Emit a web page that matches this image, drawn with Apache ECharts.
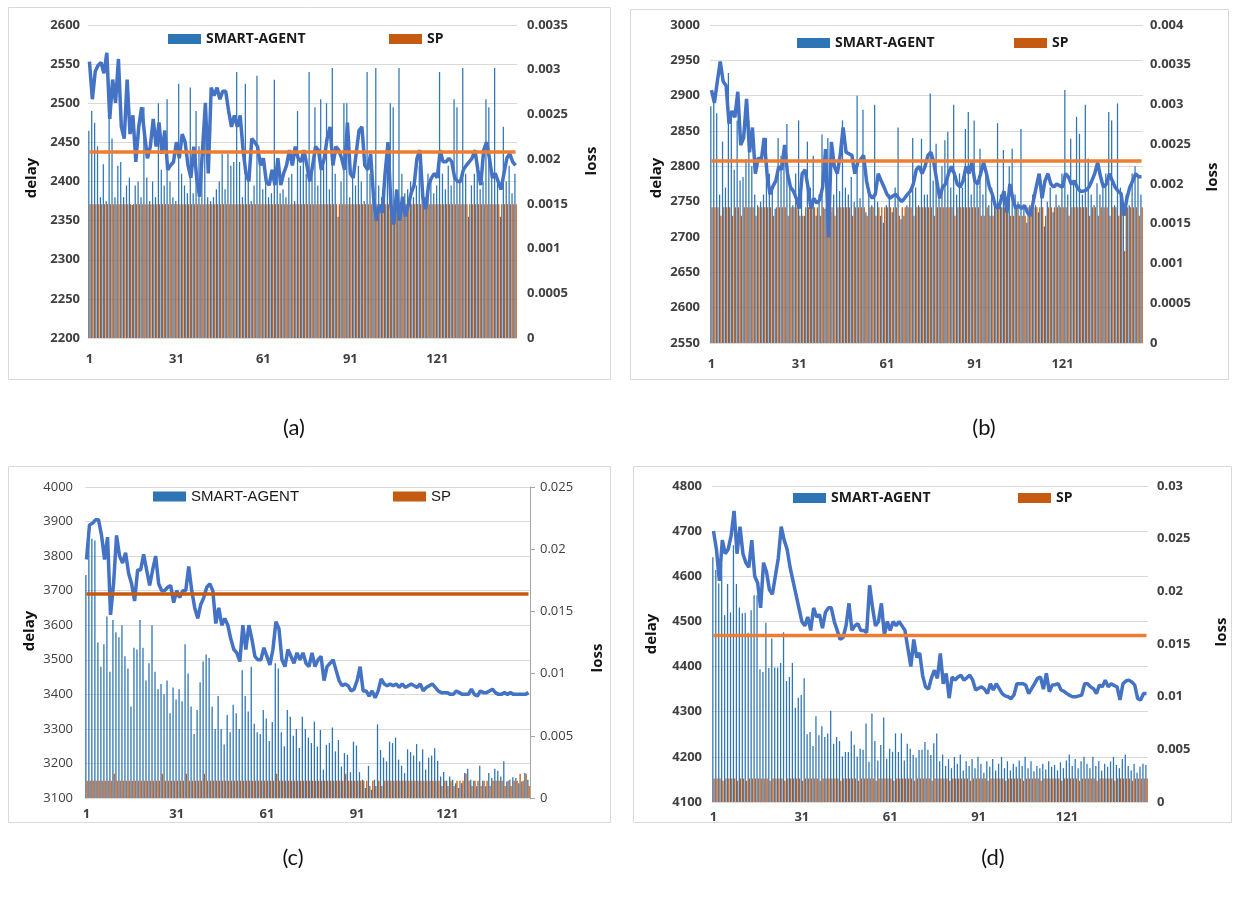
<!DOCTYPE html>
<html>
<head>
<meta charset="utf-8">
<script src="https://cdn.jsdelivr.net/npm/echarts@6/dist/echarts.min.js"></script>
<style>
html, body { margin: 0; padding: 0; background: #fff; }
#main { width: 1236px; height: 905px; }
</style>
</head>
<body>
<div id="main"></div>
<script>
// x categories 1..148 (every 30th one labelled)
var categories = [];
for (var k = 1; k <= 148; k++) categories.push(String(k));

// ---- panel (a) ----
var delayAgentA = [
    2465, 2490, 2475, 2445, 2380, 2422, 2375, 2485, 2455, 2380, 2420, 2425, 2380, 2395, 2405, 2370, 2395, 2400, 2380, 2495,
    2405, 2375, 2400, 2380, 2500, 2415, 2395, 2505, 2400, 2380, 2375, 2525, 2410, 2395, 2385, 2520, 2385, 2490, 2445, 2410,
    2500, 2380, 2375, 2380, 2390, 2400, 2435, 2390, 2435, 2420, 2425, 2540, 2425, 2380, 2525, 2410, 2375, 2395, 2535, 2420,
    2390, 2400, 2380, 2385, 2530, 2420, 2385, 2390, 2380, 2405, 2410, 2375, 2490, 2420, 2435, 2410,
    2540, 2420, 2495, 2395, 2505, 2420, 2500, 2390, 2545, 2410, 2355, 2400, 2500, 2500, 2380, 2410, 2395, 2420, 2400, 2375,
    2540, 2410, 2385, 2545, 2395, 2380, 2410, 2420, 2500, 2495, 2390, 2545, 2410, 2385, 2390, 2400, 2380, 2395, 2420, 2395,
    2380, 2410, 2400, 2385, 2395, 2540, 2410, 2390, 2420, 2395, 2505, 2495, 2400, 2545, 2410, 2355, 2395, 2410, 2420, 2390,
    2400, 2505, 2495, 2410, 2545, 2400, 2355, 2470, 2400, 2420, 2385, 2410
];
var delaySpA = [
    2371, 2371, 2371, 2371, 2371, 2371, 2371, 2371, 2371, 2371, 2371, 2371, 2371, 2371, 2371, 2371, 2371, 2371, 2371, 2371,
    2371, 2371, 2371, 2371, 2371, 2371, 2371, 2371, 2371, 2371, 2371, 2371, 2371, 2371, 2371, 2371, 2371, 2371, 2371, 2371,
    2371, 2371, 2371, 2371, 2371, 2371, 2371, 2371, 2371, 2371, 2371, 2371, 2371, 2371, 2371, 2371, 2371, 2371, 2371, 2371,
    2371, 2371, 2371, 2371, 2371, 2371, 2371, 2371, 2371, 2371, 2371, 2371, 2371, 2371, 2371, 2371, 2371, 2371, 2371, 2371,
    2371, 2371, 2371, 2371, 2371, 2371, 2371, 2371, 2371, 2371, 2371, 2371, 2371, 2371, 2371, 2371, 2371, 2371, 2371, 2371,
    2371, 2371, 2371, 2371, 2371, 2371, 2371, 2371, 2371, 2371, 2371, 2371, 2371, 2371, 2371, 2371, 2371, 2371, 2371, 2371,
    2371, 2371, 2371, 2371, 2371, 2371, 2371, 2371, 2371, 2371, 2371, 2371, 2371, 2371, 2371, 2371, 2371, 2371, 2371, 2371,
    2371, 2371, 2371, 2371, 2371, 2371, 2371, 2371
];
var lossAgentA = [
    0.00309, 0.00267, 0.00298, 0.00305, 0.00308, 0.00296, 0.00319, 0.00245, 0.00289, 0.00263,
    0.00312, 0.00236, 0.00223, 0.00289, 0.00228, 0.00249, 0.00197, 0.00236, 0.00258, 0.00228,
    0.00201, 0.00214, 0.00245, 0.00214, 0.00241, 0.00206, 0.00232, 0.00188, 0.00193, 0.00197,
    0.00219, 0.00201, 0.00228, 0.00219, 0.00193, 0.00179, 0.00214, 0.00179, 0.00158, 0.0021,
    0.00263, 0.00184, 0.0028, 0.00271, 0.0028, 0.00267, 0.00276, 0.00276, 0.00254, 0.00236,
    0.00249, 0.00236, 0.00249, 0.0021, 0.00184, 0.00175, 0.00223, 0.00219, 0.00214, 0.00193,
    0.00201, 0.00175, 0.00171, 0.00188, 0.00171, 0.00201, 0.00171, 0.00184, 0.00193, 0.0021,
    0.00193, 0.00214, 0.00201, 0.00197, 0.0021, 0.00193, 0.00175, 0.00193, 0.00214, 0.0021,
    0.00188, 0.00201, 0.00223, 0.00236, 0.00193, 0.00214, 0.0021, 0.00201, 0.00188, 0.00241,
    0.00184, 0.00179, 0.00206, 0.00232, 0.00236, 0.00193, 0.00188, 0.00206, 0.00158, 0.00131,
    0.00149, 0.0014, 0.00184, 0.00219, 0.00149, 0.00127, 0.00166, 0.00131, 0.00158, 0.00136,
    0.00149, 0.00162, 0.00171, 0.00201, 0.0021, 0.00158, 0.00144, 0.00171, 0.00179, 0.00184,
    0.00179, 0.0021, 0.00197, 0.00197, 0.00201, 0.00197, 0.00179, 0.00175, 0.00175, 0.00188,
    0.00193, 0.00197, 0.00201, 0.0021, 0.00188, 0.00171, 0.0021, 0.00219, 0.00201, 0.00179,
    0.00184, 0.00175, 0.00166, 0.00184, 0.00201, 0.00206, 0.00197, 0.00193
];
var lossSpA = [
    0.00208, 0.00208, 0.00208, 0.00208, 0.00208, 0.00208, 0.00208, 0.00208, 0.00208, 0.00208, 0.00208, 0.00208, 0.00208, 0.00208, 0.00208, 0.00208, 0.00208, 0.00208, 0.00208, 0.00208,
    0.00208, 0.00208, 0.00208, 0.00208, 0.00208, 0.00208, 0.00208, 0.00208, 0.00208, 0.00208, 0.00208, 0.00208, 0.00208, 0.00208, 0.00208, 0.00208, 0.00208, 0.00208, 0.00208, 0.00208,
    0.00208, 0.00208, 0.00208, 0.00208, 0.00208, 0.00208, 0.00208, 0.00208, 0.00208, 0.00208, 0.00208, 0.00208, 0.00208, 0.00208, 0.00208, 0.00208, 0.00208, 0.00208, 0.00208, 0.00208,
    0.00208, 0.00208, 0.00208, 0.00208, 0.00208, 0.00208, 0.00208, 0.00208, 0.00208, 0.00208, 0.00208, 0.00208, 0.00208, 0.00208, 0.00208, 0.00208, 0.00208, 0.00208, 0.00208, 0.00208,
    0.00208, 0.00208, 0.00208, 0.00208, 0.00208, 0.00208, 0.00208, 0.00208, 0.00208, 0.00208, 0.00208, 0.00208, 0.00208, 0.00208, 0.00208, 0.00208, 0.00208, 0.00208, 0.00208, 0.00208,
    0.00208, 0.00208, 0.00208, 0.00208, 0.00208, 0.00208, 0.00208, 0.00208, 0.00208, 0.00208, 0.00208, 0.00208, 0.00208, 0.00208, 0.00208, 0.00208, 0.00208, 0.00208, 0.00208, 0.00208,
    0.00208, 0.00208, 0.00208, 0.00208, 0.00208, 0.00208, 0.00208, 0.00208, 0.00208, 0.00208, 0.00208, 0.00208, 0.00208, 0.00208, 0.00208, 0.00208, 0.00208, 0.00208, 0.00208, 0.00208,
    0.00208, 0.00208, 0.00208, 0.00208, 0.00208, 0.00208, 0.00208, 0.00208
];

// ---- panel (b) ----
var delayAgentB = [
    2885, 2900, 2875, 2760, 2835, 2770, 2932, 2877, 2795, 2865, 2780, 2785, 2810, 2865, 2800, 2760, 2745, 2750, 2760, 2840,
    2790, 2770, 2740, 2840, 2815, 2820, 2860, 2770, 2745, 2790, 2865, 2760, 2730, 2835, 2770, 2815, 2730, 2760, 2845, 2740,
    2840, 2735, 2760, 2790, 2765, 2865, 2770, 2760, 2785, 2750, 2900, 2755, 2880, 2735, 2760, 2745, 2887, 2750, 2730, 2720,
    2745, 2760, 2735, 2770, 2855, 2725, 2730, 2745, 2760, 2840, 2770, 2745, 2839, 2760, 2760, 2903, 2780, 2832, 2760, 2800,
    2837, 2849, 2770, 2887, 2760, 2790, 2770, 2853, 2877, 2760, 2865, 2780, 2825, 2760, 2790, 2745, 2770, 2750, 2861, 2760,
    2823, 2745, 2800, 2825, 2760, 2750, 2853, 2740, 2720, 2745, 2760, 2745, 2735, 2760, 2715, 2750, 2770, 2735, 2760, 2745,
    2790, 2908, 2760, 2839, 2780, 2870, 2846, 2760, 2887, 2811, 2760, 2745, 2776, 2760, 2770, 2790, 2877, 2865, 2745, 2889,
    2770, 2745, 2760, 2745, 2790, 2800, 2785, 2760
];
var delaySpB = [
    2742, 2742, 2742, 2730, 2742, 2742, 2742, 2730, 2742, 2742, 2730, 2742, 2742, 2742, 2742, 2730, 2742, 2742, 2742, 2742,
    2742, 2730, 2742, 2742, 2742, 2742, 2730, 2742, 2742, 2742, 2730, 2730, 2742, 2742, 2742, 2742, 2742, 2730, 2742, 2742,
    2742, 2742, 2730, 2742, 2742, 2742, 2742, 2742, 2730, 2742, 2742, 2742, 2742, 2730, 2742, 2742, 2730, 2742, 2742, 2742,
    2742, 2742, 2742, 2742, 2730, 2742, 2742, 2742, 2742, 2730, 2742, 2742, 2742, 2742, 2742, 2742, 2730, 2742, 2742, 2742,
    2742, 2742, 2742, 2730, 2742, 2742, 2742, 2742, 2742, 2742, 2742, 2742, 2730, 2730, 2742, 2730, 2730, 2742, 2742, 2742,
    2742, 2742, 2730, 2730, 2742, 2730, 2730, 2730, 2742, 2742, 2742, 2742, 2742, 2742, 2730, 2742, 2742, 2742, 2742, 2742,
    2742, 2742, 2730, 2742, 2742, 2742, 2742, 2742, 2742, 2730, 2742, 2742, 2730, 2742, 2742, 2742, 2730, 2742, 2742, 2730,
    2742, 2680, 2742, 2742, 2742, 2742, 2730, 2742
];
var lossAgentB = [
    0.00318, 0.00302, 0.00329, 0.00354, 0.00329, 0.00324, 0.00276, 0.00292, 0.00284, 0.00316,
    0.00249, 0.00258, 0.00307, 0.0024, 0.00271, 0.00213, 0.00233, 0.00229, 0.00258, 0.00213,
    0.00187, 0.00197, 0.00204, 0.00222, 0.00218, 0.00249, 0.00213, 0.00196, 0.00191, 0.00182,
    0.00169, 0.00213, 0.00218, 0.00196, 0.00169, 0.00182, 0.00176, 0.0018, 0.00196, 0.00244,
    0.00133, 0.00253, 0.00222, 0.00213, 0.00236, 0.00271, 0.0024, 0.00238, 0.00236, 0.00213,
    0.00227, 0.00231, 0.00236, 0.00204, 0.00187, 0.00182, 0.00187, 0.00213, 0.00204, 0.00196,
    0.00187, 0.00182, 0.00185, 0.00187, 0.00182, 0.00178, 0.00182, 0.00187, 0.00191, 0.002,
    0.00218, 0.00222, 0.00213, 0.00222, 0.00236, 0.0024, 0.00227, 0.00204, 0.00182, 0.00196,
    0.002, 0.00213, 0.00222, 0.00213, 0.002, 0.00196, 0.00204, 0.00222, 0.00213, 0.00227,
    0.00204, 0.002, 0.00213, 0.00227, 0.00213, 0.00196, 0.00187, 0.00173, 0.00169, 0.0018,
    0.00191, 0.00164, 0.002, 0.00182, 0.00169, 0.00173, 0.00169, 0.00173, 0.00164, 0.0016,
    0.00178, 0.00196, 0.00213, 0.00182, 0.00204, 0.00213, 0.002, 0.00196, 0.002, 0.00198,
    0.00196, 0.00213, 0.00209, 0.002, 0.00204, 0.00196, 0.00191, 0.00191, 0.00192, 0.00196,
    0.00204, 0.00213, 0.00227, 0.00209, 0.00196, 0.002, 0.00213, 0.00204, 0.00196, 0.00191,
    0.00188, 0.0016, 0.00182, 0.00196, 0.00204, 0.00213, 0.00209, 0.00209
];
var lossSpB = [
    0.00229, 0.00229, 0.00229, 0.00229, 0.00229, 0.00229, 0.00229, 0.00229, 0.00229, 0.00229, 0.00229, 0.00229, 0.00229, 0.00229, 0.00229, 0.00229, 0.00229, 0.00229, 0.00229, 0.00229,
    0.00229, 0.00229, 0.00229, 0.00229, 0.00229, 0.00229, 0.00229, 0.00229, 0.00229, 0.00229, 0.00229, 0.00229, 0.00229, 0.00229, 0.00229, 0.00229, 0.00229, 0.00229, 0.00229, 0.00229,
    0.00229, 0.00229, 0.00229, 0.00229, 0.00229, 0.00229, 0.00229, 0.00229, 0.00229, 0.00229, 0.00229, 0.00229, 0.00229, 0.00229, 0.00229, 0.00229, 0.00229, 0.00229, 0.00229, 0.00229,
    0.00229, 0.00229, 0.00229, 0.00229, 0.00229, 0.00229, 0.00229, 0.00229, 0.00229, 0.00229, 0.00229, 0.00229, 0.00229, 0.00229, 0.00229, 0.00229, 0.00229, 0.00229, 0.00229, 0.00229,
    0.00229, 0.00229, 0.00229, 0.00229, 0.00229, 0.00229, 0.00229, 0.00229, 0.00229, 0.00229, 0.00229, 0.00229, 0.00229, 0.00229, 0.00229, 0.00229, 0.00229, 0.00229, 0.00229, 0.00229,
    0.00229, 0.00229, 0.00229, 0.00229, 0.00229, 0.00229, 0.00229, 0.00229, 0.00229, 0.00229, 0.00229, 0.00229, 0.00229, 0.00229, 0.00229, 0.00229, 0.00229, 0.00229, 0.00229, 0.00229,
    0.00229, 0.00229, 0.00229, 0.00229, 0.00229, 0.00229, 0.00229, 0.00229, 0.00229, 0.00229, 0.00229, 0.00229, 0.00229, 0.00229, 0.00229, 0.00229, 0.00229, 0.00229, 0.00229, 0.00229,
    0.00229, 0.00229, 0.00229, 0.00229, 0.00229, 0.00229, 0.00229, 0.00229
];

// ---- panel (c) ----
var delayAgentC = [
    3745, 3840, 3850, 3845, 3550, 3480, 3545, 3625, 3465, 3615, 3580, 3565, 3600, 3510, 3475, 3365, 3535, 3530, 3615, 3535,
    3440, 3490, 3600, 3465, 3415, 3430, 3400, 3440, 3345, 3420, 3385, 3415, 3380, 3545, 3460, 3365, 3285, 3355, 3435, 3495,
    3515, 3505, 3365, 3300, 3395, 3300, 3255, 3340, 3290, 3370, 3345, 3300, 3470, 3395, 3350, 3480, 3315, 3290, 3285, 3355,
    3330, 3265, 3320, 3490, 3475, 3290, 3250, 3355, 3335, 3280, 3300, 3245, 3335, 3300, 3275,
    3259, 3321, 3249, 3297, 3182, 3254, 3259, 3304, 3235, 3268, 3191, 3230, 3225, 3175, 3263, 3252, 3175, 3153, 3129, 3193,
    3124, 3153, 3313, 3239, 3217, 3206, 3263, 3259, 3275, 3211, 3193, 3172, 3241, 3233, 3223, 3256, 3206, 3241, 3182, 3217,
    3223, 3244, 3208, 3162, 3175, 3150, 3162, 3153, 3143, 3129, 3143, 3172, 3185, 3153, 3150, 3134, 3193, 3150, 3134, 3172,
    3158, 3185, 3179, 3162, 3206, 3148, 3153, 3160, 3158, 3143, 3148, 3172, 3153
];
var delaySpC = [
    3150, 3150, 3150, 3150, 3150, 3150, 3150, 3150, 3150, 3170, 3150, 3150, 3150, 3150, 3150, 3150, 3150, 3150, 3150, 3150,
    3150, 3150, 3150, 3150, 3150, 3170, 3150, 3150, 3150, 3150, 3150, 3150, 3150, 3170, 3150, 3150, 3150, 3150, 3150, 3170,
    3150, 3150, 3150, 3150, 3150, 3150, 3150, 3150, 3150, 3150, 3150, 3150, 3150, 3150, 3150, 3150, 3150, 3150, 3150, 3150,
    3150, 3150, 3150, 3170, 3150, 3150, 3150, 3150, 3150, 3150, 3150, 3150, 3150, 3150, 3150, 3150, 3150, 3150, 3150, 3150,
    3150, 3150, 3150, 3150, 3150, 3150, 3170, 3150, 3150, 3150, 3150, 3150, 3150, 3150, 3135, 3150, 3135, 3150, 3135, 3150,
    3150, 3150, 3150, 3150, 3150, 3150, 3150, 3150, 3150, 3150, 3150, 3150, 3150, 3150, 3150, 3150, 3150, 3150, 3135, 3150,
    3135, 3150, 3135, 3150, 3150, 3150, 3170, 3150, 3135, 3150, 3150, 3135, 3150, 3150, 3135, 3150, 3150, 3150, 3150, 3135,
    3150, 3135, 3150, 3150, 3170, 3150, 3170, 3135
];
var lossAgentC = [
    0.01917, 0.02195, 0.02208, 0.02236, 0.02236, 0.02111, 0.01917, 0.02097, 0.01472, 0.01722,
    0.02111, 0.01945, 0.01889, 0.01972, 0.01806, 0.01722, 0.01583, 0.01833, 0.01833, 0.01958,
    0.01833, 0.01708, 0.01833, 0.01945, 0.01722, 0.01667, 0.01667, 0.01694, 0.01708, 0.0157,
    0.01667, 0.01611, 0.01667, 0.01667, 0.01861, 0.01667, 0.01528, 0.01444, 0.01556, 0.01611,
    0.01694, 0.01722, 0.01667, 0.01403, 0.01528, 0.01389, 0.01444, 0.01389, 0.01278, 0.01194,
    0.01167, 0.01097, 0.01389, 0.01194, 0.01389, 0.01278, 0.01139, 0.01111, 0.01111, 0.01208,
    0.01139, 0.0107, 0.01194, 0.01417, 0.01361, 0.01111, 0.01056, 0.01194, 0.01139, 0.01083,
    0.01167, 0.01111, 0.01167, 0.01083, 0.01056, 0.01167, 0.01056, 0.01111, 0.01139, 0.00944,
    0.01056, 0.01083, 0.01111, 0.01028, 0.00944, 0.00903, 0.00917, 0.00903, 0.00861, 0.00875,
    0.00944, 0.01056, 0.00861, 0.00861, 0.0082, 0.00861, 0.00806, 0.00861, 0.00958, 0.00917,
    0.00903, 0.00917, 0.00903, 0.00917, 0.00889, 0.00917, 0.00889, 0.00903, 0.00917, 0.00903,
    0.00889, 0.00917, 0.00861, 0.00889, 0.00903, 0.00917, 0.00889, 0.00861, 0.00847, 0.00847,
    0.00847, 0.00833, 0.00833, 0.00861, 0.00847, 0.00833, 0.00833, 0.00833, 0.00875, 0.00833,
    0.0082, 0.00861, 0.00847, 0.00847, 0.00861, 0.00875, 0.00847, 0.00833, 0.00833, 0.00847,
    0.00833, 0.00847, 0.00833, 0.00833, 0.00833, 0.00833, 0.00833, 0.00847
];
var lossSpC = [
    0.0164, 0.0164, 0.0164, 0.0164, 0.0164, 0.0164, 0.0164, 0.0164, 0.0164, 0.0164, 0.0164, 0.0164, 0.0164, 0.0164, 0.0164, 0.0164, 0.0164, 0.0164, 0.0164, 0.0164,
    0.0164, 0.0164, 0.0164, 0.0164, 0.0164, 0.0164, 0.0164, 0.0164, 0.0164, 0.0164, 0.0164, 0.0164, 0.0164, 0.0164, 0.0164, 0.0164, 0.0164, 0.0164, 0.0164, 0.0164,
    0.0164, 0.0164, 0.0164, 0.0164, 0.0164, 0.0164, 0.0164, 0.0164, 0.0164, 0.0164, 0.0164, 0.0164, 0.0164, 0.0164, 0.0164, 0.0164, 0.0164, 0.0164, 0.0164, 0.0164,
    0.0164, 0.0164, 0.0164, 0.0164, 0.0164, 0.0164, 0.0164, 0.0164, 0.0164, 0.0164, 0.0164, 0.0164, 0.0164, 0.0164, 0.0164, 0.0164, 0.0164, 0.0164, 0.0164, 0.0164,
    0.0164, 0.0164, 0.0164, 0.0164, 0.0164, 0.0164, 0.0164, 0.0164, 0.0164, 0.0164, 0.0164, 0.0164, 0.0164, 0.0164, 0.0164, 0.0164, 0.0164, 0.0164, 0.0164, 0.0164,
    0.0164, 0.0164, 0.0164, 0.0164, 0.0164, 0.0164, 0.0164, 0.0164, 0.0164, 0.0164, 0.0164, 0.0164, 0.0164, 0.0164, 0.0164, 0.0164, 0.0164, 0.0164, 0.0164, 0.0164,
    0.0164, 0.0164, 0.0164, 0.0164, 0.0164, 0.0164, 0.0164, 0.0164, 0.0164, 0.0164, 0.0164, 0.0164, 0.0164, 0.0164, 0.0164, 0.0164, 0.0164, 0.0164, 0.0164, 0.0164,
    0.0164, 0.0164, 0.0164, 0.0164, 0.0164, 0.0164, 0.0164, 0.0164
];

// ---- panel (d) ----
var delayAgentD = [
    4642, 4614, 4584, 4626, 4514, 4583, 4520, 4669, 4583, 4531, 4518, 4519, 4475, 4525, 4558, 4558, 4394, 4388, 4497, 4397,
    4462, 4398, 4398, 4408, 4476, 4368, 4377, 4408, 4309, 4331, 4337, 4374, 4250, 4255, 4224, 4290, 4248, 4268, 4244, 4252,
    4302, 4229, 4244, 4235, 4201, 4211, 4211, 4257, 4227, 4201, 4218, 4216, 4274, 4189, 4296, 4235, 4192, 4226, 4287, 4196,
    4218, 4211, 4252, 4211, 4252, 4192, 4229, 4218, 4204, 4198, 4215, 4216, 4233, 4216, 4204,
    4230, 4252, 4190, 4205, 4180, 4195, 4175, 4200, 4185, 4205, 4170, 4190, 4180, 4195, 4175, 4200, 4185, 4165, 4190, 4178,
    4195, 4170, 4185, 4200, 4175, 4190, 4170, 4185, 4178, 4192, 4180, 4200, 4175, 4190, 4168, 4180, 4175, 4185, 4172, 4190,
    4178, 4182, 4170, 4188, 4175, 4192, 4205, 4180, 4195, 4175, 4190, 4200, 4185, 4175, 4200, 4180, 4190, 4170, 4185, 4178,
    4190, 4200, 4182, 4175, 4195, 4205, 4180, 4170, 4185, 4165, 4178, 4185, 4182
];
var delaySpD = [
    4152, 4152, 4152, 4147, 4152, 4152, 4152, 4152, 4147, 4152, 4152, 4147, 4152, 4152, 4152, 4152, 4152, 4152, 4152, 4147,
    4152, 4152, 4152, 4152, 4147, 4152, 4152, 4152, 4152, 4152, 4147, 4152, 4152, 4152, 4152, 4152, 4147, 4152, 4152, 4152,
    4152, 4152, 4152, 4147, 4152, 4152, 4152, 4152, 4152, 4147, 4152, 4152, 4152, 4152, 4152, 4147, 4152, 4152, 4152, 4152,
    4152, 4147, 4152, 4152, 4152, 4152, 4152, 4152, 4147, 4152, 4152, 4152, 4152, 4152, 4147, 4152, 4152, 4152, 4152, 4152,
    4147, 4152, 4152, 4152, 4152, 4152, 4152, 4147, 4152, 4152, 4152, 4152, 4152, 4147, 4152, 4152, 4152, 4152, 4152, 4147,
    4152, 4152, 4152, 4152, 4152, 4147, 4152, 4152, 4152, 4152, 4152, 4147, 4152, 4152, 4152, 4152, 4152, 4152, 4147, 4152,
    4152, 4152, 4152, 4152, 4147, 4152, 4152, 4152, 4152, 4152, 4147, 4152, 4152, 4152, 4152, 4152, 4147, 4152, 4152, 4152,
    4152, 4152, 4147, 4152, 4152, 4152, 4152, 4152
];
var lossAgentD = [
    0.02572, 0.024, 0.021, 0.02486, 0.02357, 0.024, 0.02529, 0.02764, 0.02357, 0.02614,
    0.02357, 0.02272, 0.02229, 0.02486, 0.02143, 0.02079, 0.01843, 0.02272, 0.02186, 0.02014,
    0.01972, 0.02143, 0.02314, 0.02614, 0.02486, 0.024, 0.02229, 0.021, 0.01972, 0.01843,
    0.01714, 0.01672, 0.01757, 0.01629, 0.01843, 0.01757, 0.01779, 0.0165, 0.018, 0.01843,
    0.01843, 0.01714, 0.01629, 0.01543, 0.01564, 0.01672, 0.01886, 0.01629, 0.01672, 0.01693,
    0.01629, 0.01629, 0.01607, 0.02057, 0.01843, 0.01672, 0.01714, 0.01886, 0.01586, 0.01714,
    0.01629, 0.01714, 0.01672, 0.01714, 0.01672, 0.01629, 0.01457, 0.01286, 0.01543, 0.01371,
    0.01414, 0.012, 0.01093, 0.01072, 0.01179, 0.01251, 0.01174, 0.0141, 0.01123, 0.01221,
    0.00986, 0.01187, 0.01157, 0.01187, 0.01204, 0.01157, 0.01179, 0.01204, 0.01157, 0.01063,
    0.0108, 0.01093, 0.01072, 0.01029, 0.01123, 0.01063, 0.01123, 0.01076, 0.01029, 0.01007,
    0.00999, 0.00981, 0.01016, 0.01123, 0.01123, 0.01123, 0.0111, 0.01029, 0.01076, 0.01123,
    0.01174, 0.01187, 0.01072, 0.01221, 0.01046, 0.0111, 0.01114, 0.01123, 0.01063, 0.0105,
    0.01029, 0.01011, 0.00999, 0.00999, 0.01007, 0.01016, 0.01123, 0.01123, 0.01093, 0.01076,
    0.01029, 0.0111, 0.01093, 0.01157, 0.01093, 0.01123, 0.01106, 0.01093, 0.00969, 0.01123,
    0.01149, 0.01157, 0.0114, 0.0111, 0.00981, 0.00969, 0.01029, 0.01029
];
var lossSpD = [
    0.0158, 0.0158, 0.0158, 0.0158, 0.0158, 0.0158, 0.0158, 0.0158, 0.0158, 0.0158, 0.0158, 0.0158, 0.0158, 0.0158, 0.0158, 0.0158, 0.0158, 0.0158, 0.0158, 0.0158,
    0.0158, 0.0158, 0.0158, 0.0158, 0.0158, 0.0158, 0.0158, 0.0158, 0.0158, 0.0158, 0.0158, 0.0158, 0.0158, 0.0158, 0.0158, 0.0158, 0.0158, 0.0158, 0.0158, 0.0158,
    0.0158, 0.0158, 0.0158, 0.0158, 0.0158, 0.0158, 0.0158, 0.0158, 0.0158, 0.0158, 0.0158, 0.0158, 0.0158, 0.0158, 0.0158, 0.0158, 0.0158, 0.0158, 0.0158, 0.0158,
    0.0158, 0.0158, 0.0158, 0.0158, 0.0158, 0.0158, 0.0158, 0.0158, 0.0158, 0.0158, 0.0158, 0.0158, 0.0158, 0.0158, 0.0158, 0.0158, 0.0158, 0.0158, 0.0158, 0.0158,
    0.0158, 0.0158, 0.0158, 0.0158, 0.0158, 0.0158, 0.0158, 0.0158, 0.0158, 0.0158, 0.0158, 0.0158, 0.0158, 0.0158, 0.0158, 0.0158, 0.0158, 0.0158, 0.0158, 0.0158,
    0.0158, 0.0158, 0.0158, 0.0158, 0.0158, 0.0158, 0.0158, 0.0158, 0.0158, 0.0158, 0.0158, 0.0158, 0.0158, 0.0158, 0.0158, 0.0158, 0.0158, 0.0158, 0.0158, 0.0158,
    0.0158, 0.0158, 0.0158, 0.0158, 0.0158, 0.0158, 0.0158, 0.0158, 0.0158, 0.0158, 0.0158, 0.0158, 0.0158, 0.0158, 0.0158, 0.0158, 0.0158, 0.0158, 0.0158, 0.0158,
    0.0158, 0.0158, 0.0158, 0.0158, 0.0158, 0.0158, 0.0158, 0.0158
];

var BLUE_BAR = '#2E75B6';
var ORANGE_BAR = '#C55A11';
var BLUE_LINE = '#4472C4';
var ORANGE_LINE = '#ED7D31';
var LABEL_COLOR = '#404040';
var FONT = "'Open Sans', 'Liberation Sans', sans-serif";

// layout of the four panels (pixel boxes measured on the figure)
var panels = [
    {
        grid: { left: 88, top: 25, width: 429, height: 313 },
        delay: [2200, 2600, 50], loss: [0, 0.0035, 0.0005],
        bars: [delayAgentA, delaySpA], lines: [lossAgentA, lossSpA],
        spLine: ORANGE_LINE, bold: true, xMargin: 15, lMargin: 8, rMargin: 10, rightLine: false,
        leg: [163, 384, 27], legFont: 14,
        box: [8.5, 7.5, 602, 372], caption: ['(a)', 294, 428],
        delayName: [32, 178], lossName: [592, 161]
    },
    {
        grid: { left: 710, top: 25, width: 433, height: 318 },
        delay: [2550, 3000, 50], loss: [0, 0.004, 0.0005],
        bars: [delayAgentB, delaySpB], lines: [lossAgentB, lossSpB],
        spLine: ORANGE_LINE, bold: true, xMargin: 15, lMargin: 10, rMargin: 7, rightLine: false,
        leg: [792, 1009, 31], legFont: 14,
        box: [630.5, 9.5, 598, 370], caption: ['(b)', 984, 428],
        delayName: [657, 178], lossName: [1213, 177]
    },
    {
        grid: { left: 85, top: 487, width: 445, height: 311 },
        delay: [3100, 4000, 100], loss: [0, 0.025, 0.005],
        bars: [delayAgentC, delaySpC], lines: [lossAgentC, lossSpC],
        spLine: ORANGE_BAR, bold: false, xMargin: 10, lMargin: 12, rMargin: 10, rightLine: true,
        leg: [148, 388, 484], legFont: 15,
        box: [8.5, 466.5, 602, 356], caption: ['(c)', 293, 858],
        delayName: [30, 631], lossName: [598, 658]
    },
    {
        grid: { left: 712, top: 486, width: 436, height: 316 },
        delay: [4100, 4800, 100], loss: [0, 0.03, 0.005],
        bars: [delayAgentD, delaySpD], lines: [lossAgentD, lossSpD],
        spLine: ORANGE_LINE, bold: true, xMargin: 9, lMargin: 10, rMargin: 9, rightLine: false,
        leg: [788, 1013, 486], legFont: 14,
        box: [633.5, 466.5, 598, 356], caption: ['(d)', 993, 858],
        delayName: [652, 634], lossName: [1222, 632]
    }
];

var option = {
    backgroundColor: '#ffffff',
    animation: false,
    grid: [], xAxis: [], yAxis: [], series: [], legend: [], graphic: []
};

panels.forEach(function (p, i) {
    var weight = p.bold ? 'bold' : 'normal';
    option.grid.push(p.grid);
    option.xAxis.push({
        type: 'category', gridIndex: i, data: categories,
        axisLine: { lineStyle: { color: '#d9d9d9' } },
        axisTick: { show: false },
        axisLabel: { interval: 29, margin: p.xMargin, color: LABEL_COLOR, fontWeight: 'bold', fontSize: 13, fontFamily: FONT }
    });
    // left: delay
    option.yAxis.push({
        type: 'value', gridIndex: i, position: 'left',
        min: p.delay[0], max: p.delay[1], interval: p.delay[2],
        axisLine: { show: false }, axisTick: { show: false },
        splitLine: { lineStyle: { color: '#d9d9d9' } },
        axisLabel: {
            margin: p.lMargin, color: LABEL_COLOR, fontWeight: weight, fontSize: 13, fontFamily: FONT,
            formatter: function (v) { return String(v); }
        }
    });
    // right: loss
    option.yAxis.push({
        type: 'value', gridIndex: i, position: 'right',
        min: p.loss[0], max: p.loss[1], interval: p.loss[2],
        axisLine: { show: p.rightLine, lineStyle: { color: '#a6a6a6' } },
        axisTick: { show: p.rightLine, length: 5, lineStyle: { color: '#a6a6a6' } },
        splitLine: { show: false },
        axisLabel: {
            margin: p.rMargin, color: LABEL_COLOR, fontWeight: weight, fontSize: 13, fontFamily: FONT,
            formatter: function (v) { return String(parseFloat(v.toFixed(5))); }
        }
    });
    option.series.push(
        { name: 'SMART-AGENT', type: 'bar', xAxisIndex: i, yAxisIndex: 2 * i, data: p.bars[0],
          itemStyle: { color: BLUE_BAR }, barGap: '0%', barCategoryGap: '14%', z: 2 },
        { name: 'SP', type: 'bar', xAxisIndex: i, yAxisIndex: 2 * i, data: p.bars[1],
          itemStyle: { color: ORANGE_BAR }, barGap: '0%', barCategoryGap: '14%', z: 2 },
        { name: 'SMART-AGENT loss', type: 'line', xAxisIndex: i, yAxisIndex: 2 * i + 1, data: p.lines[0],
          showSymbol: false, lineStyle: { color: BLUE_LINE, width: 3.5 }, itemStyle: { color: BLUE_LINE }, z: 4 },
        { name: 'SP loss', type: 'line', xAxisIndex: i, yAxisIndex: 2 * i + 1, data: p.lines[1],
          showSymbol: false, lineStyle: { color: p.spLine, width: 3.5 }, itemStyle: { color: p.spLine }, z: 5 }
    );
    var legText = { color: '#1a1a1a', fontSize: p.legFont, fontWeight: weight, fontFamily: p.bold ? FONT : "'Liberation Sans', sans-serif" };
    option.legend.push(
        { left: p.leg[0], top: p.leg[2], data: ['SMART-AGENT'], icon: 'rect', itemWidth: 33, itemHeight: 10,
          itemGap: 6, selectedMode: false, textStyle: legText },
        { left: p.leg[1], top: p.leg[2], data: ['SP'], icon: 'rect', itemWidth: 33, itemHeight: 10,
          selectedMode: false, textStyle: legText }
    );
    option.graphic.push(
        { type: 'rect', silent: true, z: -1, shape: { x: p.box[0], y: p.box[1], width: p.box[2], height: p.box[3] },
          style: { fill: 'none', stroke: '#d9d9d9', lineWidth: 1 } },
        { type: 'text', silent: true, x: p.caption[1], y: p.caption[2],
          style: { text: p.caption[0], fill: '#111', font: "22px Lato, 'Open Sans', sans-serif", align: 'center', verticalAlign: 'middle' } },
        { type: 'text', silent: true, x: p.delayName[0], y: p.delayName[1], rotation: Math.PI / 2,
          style: { text: 'delay', fill: '#111', font: "bold 15px 'Open Sans', sans-serif", align: 'center', verticalAlign: 'middle' } },
        { type: 'text', silent: true, x: p.lossName[0], y: p.lossName[1], rotation: Math.PI / 2,
          style: { text: 'loss', fill: '#111', font: "bold 15px 'Open Sans', sans-serif", align: 'center', verticalAlign: 'middle' } }
    );
});

var chart = echarts.init(document.getElementById('main'));
chart.setOption(option);
</script>
</body>
</html>
